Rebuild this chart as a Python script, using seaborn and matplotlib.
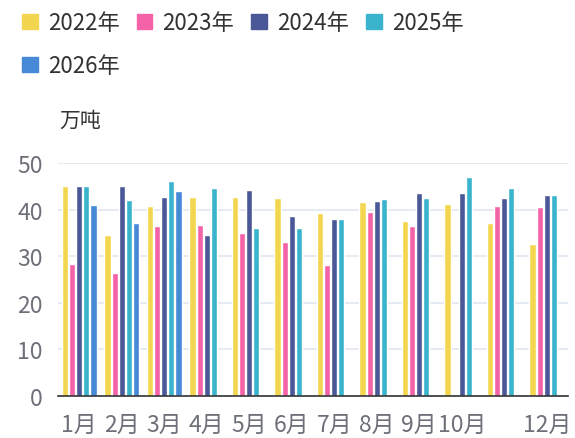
import numpy as np
import pandas as pd
import matplotlib
matplotlib.use("Agg")
import matplotlib.pyplot as plt
import matplotlib.patches as mpatches
import seaborn as sns

# data (万吨)
months = ['1月', '2月', '3月', '4月', '5月', '6月', '7月', '8月', '9月', '10月', '11月', '12月']
years = ['2022年', '2023年', '2024年', '2025年', '2026年']
v2022 = [45.1, 34.5, 40.8, 42.8, 42.8, 42.6, 39.3, 41.7, 37.6, 41.3, 37.2, 32.6]
v2023 = [28.4, 26.4, 36.5, 36.7, 35.0, 33.0, 28.1, 39.6, 36.5, np.nan, 40.9, 40.6]
v2024 = [45.1, 45.1, 42.8, 34.5, 44.3, 38.6, 38.0, 41.9, 43.6, 43.6, 42.6, 43.1]
v2025 = [45.1, 42.1, 46.1, 44.6, 36.1, 36.1, 38.1, 42.3, 42.5, 47.1, 44.6, 43.1]
v2026 = [41.1, 37.1, 44.1] + [np.nan] * 9
colors = ['#f3d650', '#f463a8', '#4b5897', '#3ab4cc', '#4689d6']

series = [v2022, v2023, v2024, v2025, v2026]
rows = []
for year, vals in zip(years, series):
    for m, v in zip(months, vals):
        rows.append({'month': m, 'year': year, 'value': v})
df = pd.DataFrame(rows).dropna()

sns.set_theme(style="white")
plt.rcParams['font.family'] = ['Noto Sans CJK SC', 'DejaVu Sans']

fig = plt.figure(figsize=(5.75, 4.39), dpi=100)
ax = fig.add_axes([58 / 575, 1 - 397 / 439, 510 / 575, (397 - 164.3) / 439])

sns.barplot(data=df, x='month', y='value', hue='year', order=months,
            hue_order=years, palette=colors, width=0.84, gap=0.15,
            errorbar=None, ax=ax, legend=False, saturation=1)

ax.set_xlim(-0.5, 11.5)
ax.set_ylim(0, 50)
ax.set_yticks([0, 10, 20, 30, 40, 50])
ax.yaxis.grid(True, color='#e0e6f1', linewidth=1.2)
ax.set_axisbelow(True)
for s in ['top', 'right', 'left']:
    ax.spines[s].set_visible(False)
ax.spines['bottom'].set_color('#333333')
ax.spines['bottom'].set_linewidth(1.2)

# ticks between categories, 11月 label hidden like the original
ax.set_xticks(range(12))
ax.set_xticklabels([m if m != '11月' else '' for m in months])
ax.set_xticks(np.arange(-0.5, 12, 1), minor=True)
ax.tick_params(axis='x', which='major', length=0, pad=12, labelsize=16.5, colors='#6e7079')
ax.tick_params(axis='x', which='minor', length=5, width=1.2, color='#333333', direction='out')
ax.tick_params(axis='y', length=0, pad=11, labelsize=16.5, colors='#6e7079')
ax.set_xlabel('')
ax.set_ylabel('')

fig.text(80 / 575, 1 - 121 / 439, '万吨', ha='center', va='center',
         fontsize=15, color='#333333')

# matplotlib fills legend columns first, so reorder to get 4 on the first row
handles = [mpatches.Patch(color=c, label=y) for c, y in zip(colors, years)]
handles = [handles[0], handles[4], handles[1], handles[2], handles[3]]
fig.legend(handles=handles, loc='upper left', bbox_to_anchor=(11 / 575, 1 - 1 / 439),
           ncol=4, frameon=False, fontsize=16, handlelength=0.7, handleheight=0.7,
           handletextpad=0.45, columnspacing=0.78, labelspacing=0.9, borderpad=0,
           labelcolor='#333333')

fig.savefig('out.png', dpi=100)
